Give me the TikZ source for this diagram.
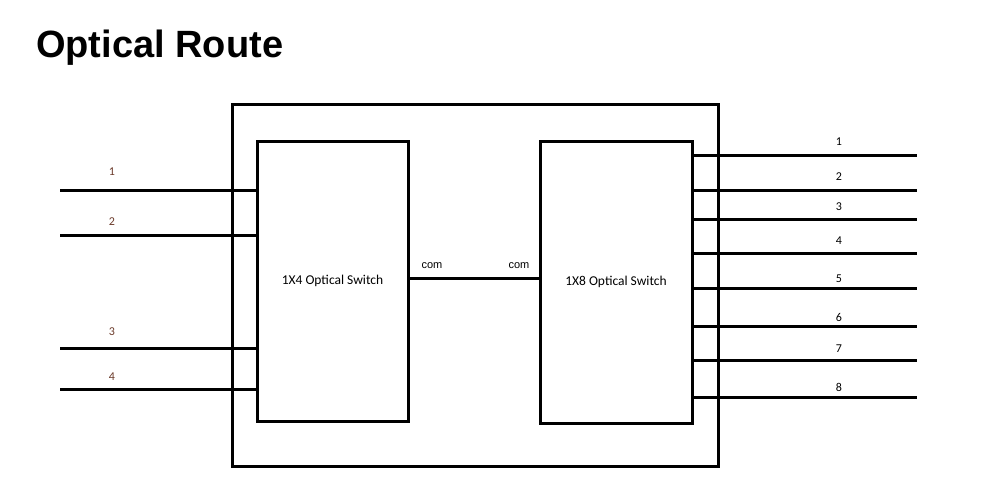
\documentclass[tikz,border=0pt]{standalone}
\usepackage{fontspec}
\setmainfont{Liberation Sans}
\newfontfamily\carlitofont{Carlito}
\definecolor{lbl}{HTML}{6B3A2A}
\begin{document}
\begin{tikzpicture}[x=1pt,y=-1pt,
  ln/.style={line width=3pt},
  box/.style={draw,line width=3pt,inner sep=0pt},
  num/.style={font=\carlitofont\fontsize{12}{14}\selectfont,inner sep=0pt},
  lab/.style={font=\carlitofont\fontsize{13.5}{15}\selectfont,inner sep=0pt},
  com/.style={font=\fontsize{11}{13}\selectfont,inner sep=0pt}]
\useasboundingbox (0,0) rectangle (1000,488);
\node[anchor=west,font=\bfseries\fontsize{38}{42}\selectfont,inner sep=0pt] (title) at (36,48) {Optical Route};
\node[box,minimum width=486pt,minimum height=362pt] (outer) at (475,285) {};
\node[box,minimum width=151pt,minimum height=280pt,lab] (sw1) at (332.5,281) {1X4 Optical Switch};
\node[box,minimum width=152pt,minimum height=282pt,lab] (sw2) at (616,282) {1X8 Optical Switch};
\draw[ln] (sw1.east |- 0,278) -- (sw2.west |- 0,278);
\node[com] (c1) at (432,266) {com};
\node[com] (c2) at (519,266) {com};
\foreach \i/\y/\ly in {1/190/172,2/235/222,3/348/332,4/389/377}{
  \coordinate (l\i) at (60,\y);
  \draw[ln] (l\i) -- (sw1.west |- l\i);
  \node[num,text=lbl] (ln\i) at (112,\ly) {\i};
}
\foreach \i/\y/\ly in {1/155/142,2/190/177,3/219/207,4/253/241,5/288/279,6/326/317,7/360/349,8/397/387}{
  \coordinate (r\i) at (917,\y);
  \draw[ln] (sw2.east |- r\i) -- (r\i);
  \node[num] (rn\i) at (839,\ly) {\i};
}
\end{tikzpicture}
\end{document}
